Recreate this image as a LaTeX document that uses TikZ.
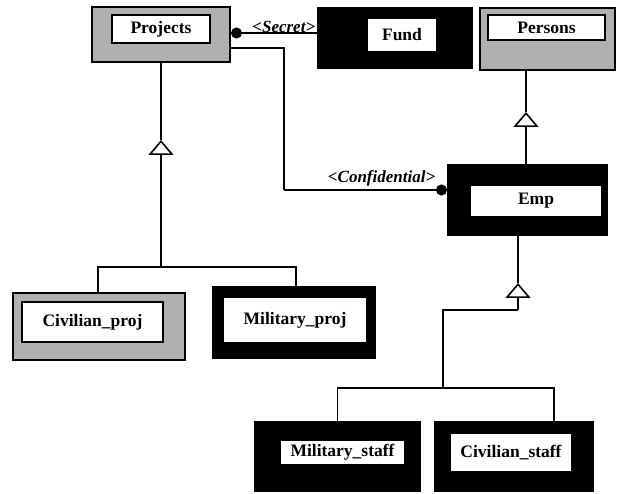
\documentclass[tikz,border=0pt]{standalone}
\usepackage{fontspec}
\setmainfont{Liberation Serif}
\usetikzlibrary{arrows.meta,calc}
\tikzset{
  outerbox/.style={draw=black, line width=2pt, inner sep=0pt},
  blackbox/.style={outerbox, fill=black},
  graybox/.style={outerbox, fill=gray!62},
  innerbox/.style={draw=black, line width=1.2pt, fill=white, inner sep=0pt, font=\fontsize{17.5}{19}\selectfont\bfseries},
  conn/.style={line width=1.6pt, draw=black},
  gentri/.style={conn, -{Triangle[open, length=15pt, width=25pt, line width=1.6pt]}},
  dotstart/.style={conn, {Circle[length=11pt]}-},
  dotend/.style={conn, -{Circle[length=11pt]}},
  lbl/.style={font=\fontsize{17}{19}\selectfont\bfseries\itshape, inner sep=1pt}
}
\begin{document}
\begin{tikzpicture}[x=1pt,y=-1pt]
\useasboundingbox (0,0) rectangle (619,494);
% class boxes
\node[graybox, minimum width=138pt, minimum height=55pt] (projects) at (161,34.5) {};
\node[innerbox, minimum width=98pt, minimum height=28pt] (projects-t) at (161,29) {Projects};
\node[blackbox, minimum width=154pt, minimum height=60pt] (fund) at (395,38) {};
\node[innerbox, minimum width=70pt, minimum height=34pt] (fund-t) at (402,35) {Fund};
\node[graybox, minimum width=135pt, minimum height=62pt] (persons) at (547.5,39) {};
\node[innerbox, minimum width=117pt, minimum height=25pt] (persons-t) at (546.5,27.5) {Persons};
\node[blackbox, minimum width=159pt, minimum height=70pt] (emp) at (527.5,200) {};
\node[innerbox, minimum width=132pt, minimum height=32pt] (emp-t) at (536,201) {Emp};
\node[graybox, minimum width=172pt, minimum height=67pt] (civproj) at (99,326.5) {};
\node[innerbox, minimum width=141pt, minimum height=40pt] (civproj-t) at (92.5,322) {Civilian\_proj};
\node[blackbox, minimum width=162pt, minimum height=71pt] (milproj) at (294,322.5) {};
\node[innerbox, minimum width=144pt, minimum height=46pt] (milproj-t) at (295,320) {Military\_proj};
\node[blackbox, minimum width=165pt, minimum height=69pt] (milstaff) at (337.5,456.5) {};
\node[innerbox, minimum width=125pt, minimum height=25pt] (milstaff-t) at (342.5,452.5) {Military\_staff};
\node[blackbox, minimum width=158pt, minimum height=69pt] (civstaff) at (514,456.5) {};
\node[innerbox, minimum width=122pt, minimum height=39pt] (civstaff-t) at (511,452.5) {Civilian\_staff};
% coordinates
\coordinate (pstart) at ($(projects.east)+(0,-1.5)$);
\coordinate (cstart) at ($(projects.south east)+(0,-15)$);
\coordinate (cbend) at (284,190);
\coordinate (pj) at (161,267);
\coordinate (ptri) at (161,140);
\coordinate (etri) at (526,112);
\coordinate (sj) at (443,388);
\coordinate (csc) at (554,388);
\coordinate (sb) at (518,310);
\coordinate (stri) at (518,283);
% associations
\draw[dotstart] (pstart) -- (fund.west |- pstart)
  node[lbl, anchor=south east, pos=1, xshift=0pt, yshift=-1pt] {<Secret>};
\draw[conn] (cstart) -| (cbend);
\draw[dotend] (cbend) -- (emp.west |- cbend)
  node[lbl, anchor=south east, pos=1, xshift=-10pt, yshift=2pt] {<Confidential>};
% generalization Projects
\draw[conn] (civproj.north -| 98,0) |- (pj) -| (milproj.north -| 296,0);
\draw[gentri] (pj) -- (ptri);
\draw[conn] (ptri) -- (projects.south);
% generalization Persons
\draw[gentri] (emp.north -| etri) -- (etri);
\draw[conn] (etri) -- (persons.south -| etri);
% generalization Emp
\draw[conn] (milstaff.north) |- (sj) -- (csc) -- (civstaff.north -| csc);
\draw[conn] (sj) |- (sb);
\draw[gentri] (sb) -- (stri);
\draw[conn] (stri) -- (emp.south -| stri);
\end{tikzpicture}
\end{document}
